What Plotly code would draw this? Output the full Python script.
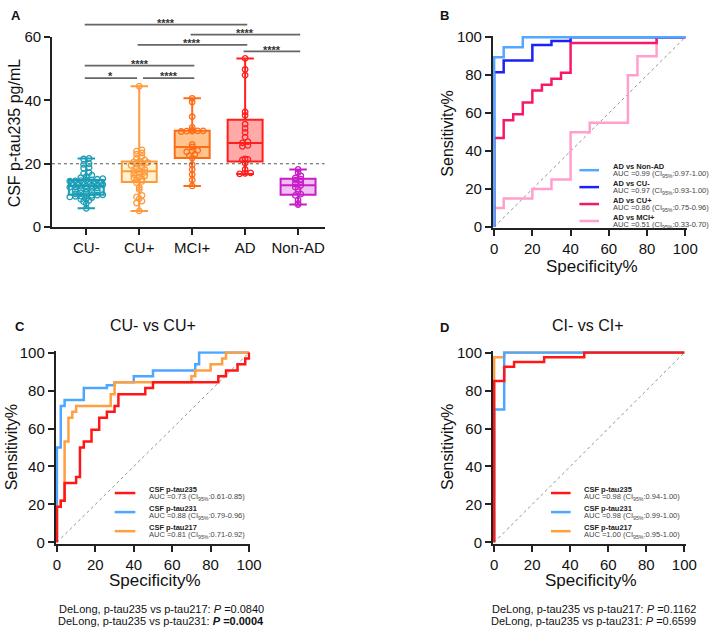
import numpy as np
import plotly.graph_objects as go
from collections import defaultdict

W, H = 710, 637
FONT = "Liberation Sans, Arial, Helvetica, sans-serif"
AX = "#222222"

# ---------------- Panel A data ----------------
groups = ["CU-", "CU+", "MCI+", "AD", "Non-AD"]
cu_neg = [5.9, 7.4, 8.0, 8.4, 8.8, 9.0, 9.3, 9.5, 9.7, 9.8, 9.9, 10.0, 10.1, 10.2, 10.5,
          10.8, 11.0, 11.2, 11.4, 11.6, 11.8, 12.0, 12.2, 12.4, 12.6, 12.7, 12.9, 13.0,
          13.1, 13.3, 13.4, 13.6, 13.7, 13.9, 14.0, 14.2, 14.3, 14.5, 14.6, 14.7, 14.8,
          14.9, 15.1, 15.3, 15.6, 16.0, 16.4, 16.9, 17.2, 18.6, 18.8, 19.8, 20.0, 21.5, 21.7]
cu_pos = [5.1, 7.6, 8.2, 9.0, 9.5, 10.0, 11.8, 12.5, 14.0, 14.4, 14.8, 15.2, 15.5, 15.8,
          16.2, 16.6, 17.0, 17.3, 17.6, 17.9, 18.2, 18.6, 19.0, 19.5, 19.9, 20.2, 20.4,
          20.6, 20.8, 21.2, 21.8, 22.3, 23.0, 23.4, 24.0, 24.4, 44.5]
mci_pos = [13.0, 14.9, 16.6, 18.2, 19.7, 21.8, 22.6, 23.0, 23.8, 24.0, 24.2, 25.3, 26.1,
           30.2, 30.3, 30.3, 30.4, 30.4, 30.6, 31.5, 34.9, 39.5, 40.7]
ad = [16.8, 17.0, 17.1, 18.2, 20.2, 21.2, 21.4, 21.5, 25.5, 25.8, 26.6, 27.0, 28.4, 29.9,
      31.2, 32.5, 35.3, 36.4, 48.0, 49.8, 53.3]
non_ad = [7.1, 7.5, 8.5, 10.0, 10.4, 11.2, 12.0, 12.6, 13.2, 13.6, 14.2, 14.8, 15.1, 15.5,
          16.2, 17.2, 18.2]
group_values = [cu_neg, cu_pos, mci_pos, ad, non_ad]
group_colors = ["#1c9db6", "#ff9a3c", "#ff6c17", "#ff1f1f", "#c81ec8"]
group_fills = ["#cdeef3", "#fff2cf", "#ffc38c", "#ffa9a9", "#f1bff1"]
cutoff = 20

comparisons = [(0, 3, "****"), (2, 4, "****"), (1, 3, "****"), (3, 4, "****"),
               (0, 2, "****"), (0, 1, "*"), (1, 2, "****")]
comparison_levels = [64.0, 60.8, 57.6, 55.5, 51.0, 47.1, 47.1]

# ---------------- ROC data ----------------
b_names = ["AD vs Non-AD", "AD vs CU-", "AD vs CU+", "AD vs MCI+"]
b_auc = ["0.99", "0.97", "0.86", "0.51"]
b_ci = ["0.97-1.00", "0.93-1.00", "0.75-0.96", "0.33-0.70"]
b_x = [[0, 0, 5, 15, 100],
       [0, 0, 5, 20, 30, 40, 100],
       [0, 0, 5, 10, 15, 20, 25, 30, 35, 40, 85, 100],
       [0, 0, 5, 20, 30, 40, 50, 70, 75, 85, 100]]
b_y = [[0, 89.5, 94.7, 100, 100],
       [0, 81.6, 87.8, 95.9, 98.0, 100, 100],
       [0, 46.9, 56.3, 59.4, 65.6, 71.9, 75.0, 78.1, 81.3, 96.9, 100, 100],
       [0, 10, 15, 20, 25, 50, 55, 80, 90, 100, 100]]
b_colors = ["#52a8ff", "#1a22f5", "#f7186c", "#ff9fcd"]

marker_names = ["CSF p-tau235", "CSF p-tau231", "CSF p-tau217"]
marker_colors = ["#ff1616", "#4da6ff", "#ffa040"]
c_auc = ["0.73", "0.88", "0.81"]
c_ci = ["0.61-0.85", "0.79-0.96", "0.71-0.92"]
c_x = [[0, 0, 2, 4, 10, 12, 14, 18, 22, 26, 30, 32, 46, 50, 84, 88, 94, 98, 100],
       [0, 0, 2, 4, 14, 26, 30, 40, 50, 72, 74, 100],
       [0, 0, 2, 4, 6, 8, 10, 28, 30, 70, 72, 80, 86, 88, 100]]
c_y = [[0, 18.8, 21.9, 31.3, 34.4, 50.0, 53.1, 59.4, 65.6, 68.8, 71.9, 78.1, 81.3, 84.4,
        87.5, 90.6, 93.8, 96.9, 100],
       [0, 50, 71.9, 75.0, 81.3, 82.8, 84.4, 87.5, 90.6, 93.8, 100, 100],
       [0, 18.8, 21.9, 53.1, 65.6, 68.8, 71.9, 78.1, 84.4, 87.5, 90.6, 93.8, 96.9, 100, 100]]
d_auc = ["0.98", "0.98", "1.00"]
d_ci = ["0.94-1.00", "0.99-1.00", "0.95-1.00"]
d_x = [[0, 0, 5.3, 10.5, 26.3, 47.4, 100],
       [0, 0, 5.3, 100],
       [0, 0, 5.3, 100]]
d_y = [[0, 85, 92.5, 95, 97.5, 100, 100],
       [0, 70, 100, 100],
       [0, 97.5, 100, 100]]
c_pvals = [("p-tau217", "0.0840", False), ("p-tau231", "0.0004", True)]
d_pvals = [("p-tau217", "0.1162", False), ("p-tau231", "0.6599", False)]


# ---------------- geometry helpers ----------------
def xdom(p_a, p_b, a, b, r0, r1):
    s = (p_b - p_a) / (b - a)
    return [(p_a + (r0 - a) * s) / W, (p_a + (r1 - a) * s) / W]


def ydom(p_a, p_b, a, b, r0, r1):
    s = (p_a - p_b) / (b - a)
    return [1 - (p_a - (r0 - a) * s) / H, 1 - (p_a - (r1 - a) * s) / H]


def px(x):
    return x / W


def py(y):
    return 1 - y / H


fig = go.Figure()

# ---------------- Panel A ----------------
xa_range = [-0.65, 4.5]
px_per_cat = (328 - 50) / (xa_range[1] - xa_range[0])
for i, vals in enumerate(group_values):
    v = np.array(vals)
    q1, med, q3 = np.percentile(v, [25, 50, 75], method="weibull")
    fig.add_trace(go.Box(
        x=[i], q1=[q1], median=[med], q3=[q3], lowerfence=[v.min()], upperfence=[v.max()],
        width=0.66, whiskerwidth=0.5, boxpoints=False,
        line=dict(color=group_colors[i], width=2), fillcolor=group_fills[i],
        xaxis="x", yaxis="y", showlegend=False, hoverinfo="skip"))


def swarm(vals, center, bin_h=1.0, step_px=5.6):
    bins = defaultdict(list)
    for v in vals:
        bins[int(np.floor(v / bin_h + 0.5))].append(v)
    xs, ys = [], []
    for b in sorted(bins):
        vs = sorted(bins[b])
        n = len(vs)
        for k, v in enumerate(vs):
            xs.append(center + (k - (n - 1) / 2) * step_px / px_per_cat)
            ys.append(v)
    return xs, ys


for i, vals in enumerate(group_values):
    xs, ys = swarm(vals, i)
    fig.add_trace(go.Scatter(
        x=xs, y=ys, mode="markers",
        marker=dict(symbol="circle-open", size=5.5, color=group_colors[i],
                    line=dict(width=1.3, color=group_colors[i])),
        xaxis="x", yaxis="y", showlegend=False, hoverinfo="skip"))

# significance brackets on an invisible helper subplot sharing panel A's scale
ends = defaultdict(list)
for (i, j, _), lv in zip(comparisons, comparison_levels):
    ends[lv].append((i, j))
bx, by = [], []
for (i, j, lab), lv in zip(comparisons, comparison_levels):
    x0 = i - 0.03
    x1 = j + 0.04
    if any(jj == i for (ii, jj) in ends[lv] if (ii, jj) != (i, j)):
        x0 = i + 0.07
    if any(ii == j for (ii, jj) in ends[lv] if (ii, jj) != (i, j)):
        x1 = j - 0.04
    bx += [x0, x1, None]
    by += [lv, lv, None]
    fig.add_annotation(x=(x0 + x1) / 2, y=lv + 0.5, xref="x5", yref="y5", text="<b>" + lab + "</b>",
                       showarrow=False, xanchor="center", yanchor="middle",
                       font=dict(family=FONT, size=11, color="#333333"))
fig.add_trace(go.Scatter(x=bx, y=by, mode="lines", line=dict(color="#666666", width=1.7),
                         xaxis="x5", yaxis="y5", showlegend=False, hoverinfo="skip"))

fig.add_shape(type="line", xref="x domain", yref="y", x0=0, x1=1, y0=cutoff, y1=cutoff,
              line=dict(color="#555555", width=1, dash="dot"))

# ---------------- ROC panels ----------------
def diag(xa, ya):
    fig.add_trace(go.Scatter(x=[0, 100], y=[0, 100], mode="lines",
                             line=dict(color="#777777", width=0.8, dash="dot"),
                             xaxis=xa, yaxis=ya, showlegend=False, hoverinfo="skip"))


diag("x2", "y2")
for k in [3, 2, 1, 0]:
    fig.add_trace(go.Scatter(x=b_x[k], y=b_y[k], mode="lines",
                             line=dict(shape="hv", color=b_colors[k], width=2.5),
                             xaxis="x2", yaxis="y2", showlegend=False, name=b_names[k]))
diag("x3", "y3")
for k in [1, 2, 0]:
    fig.add_trace(go.Scatter(x=c_x[k], y=c_y[k], mode="lines",
                             line=dict(shape="hv", color=marker_colors[k], width=2.5),
                             xaxis="x3", yaxis="y3", showlegend=False, name=marker_names[k]))
diag("x4", "y4")
for k in [2, 1, 0]:
    fig.add_trace(go.Scatter(x=d_x[k], y=d_y[k], mode="lines",
                             line=dict(shape="hv", color=marker_colors[k], width=2.5),
                             xaxis="x4", yaxis="y4", showlegend=False, name=marker_names[k]))


# legends drawn as annotations + sample lines
def legend(names, aucs, cis, colors, line_x0, line_x1, text_x, y0, dy):
    for k, (nm, au, ci, col) in enumerate(zip(names, aucs, cis, colors)):
        ty = y0 + k * dy
        fig.add_shape(type="line", xref="paper", yref="paper",
                      x0=px(line_x0), x1=px(line_x1), y0=py(ty + 3.3), y1=py(ty + 3.3),
                      line=dict(color=col, width=2.5))
        fig.add_annotation(x=px(text_x), y=py(ty), xref="paper", yref="paper",
                           text="<b>" + nm + "</b>", showarrow=False, xanchor="left",
                           yanchor="middle", font=dict(family=FONT, size=7.5, color="#222"))
        fig.add_annotation(x=px(text_x), y=py(ty + 7.6), xref="paper", yref="paper",
                           text="AUC =" + au + " (CI<sub>95%</sub>:" + ci + ")",
                           showarrow=False, xanchor="left", yanchor="middle",
                           font=dict(family=FONT, size=7.5, color="#444"))


legend(b_names, b_auc, b_ci, b_colors, 588, 608, 620, 162.3, 17.4)
legend(marker_names, c_auc, c_ci, marker_colors, 114, 135, 146.5, 494, 19.6)
legend(marker_names, d_auc, d_ci, marker_colors, 559, 579, 590.5, 494, 19.6)


def footnote(pvals, cx):
    for k, (other, p, bold) in enumerate(pvals):
        ptxt = "<i>P</i> =" + p
        if bold:
            ptxt = "<b>" + ptxt + "</b>"
        fig.add_annotation(x=px(cx), y=py(616 + 13 * k), xref="paper", yref="paper",
                           text="DeLong, p-tau235 vs " + other + ": " + ptxt,
                           showarrow=False, xanchor="center", yanchor="middle",
                           font=dict(family=FONT, size=11, color="#111"))


footnote(c_pvals, 161.5)
footnote(d_pvals, 602.5)


def text(x, y, s, size, angle=0, bold=False):
    fig.add_annotation(x=px(x), y=py(y), xref="paper", yref="paper",
                       text=("<b>" + s + "</b>") if bold else s, showarrow=False,
                       textangle=angle, xanchor="center", yanchor="middle",
                       font=dict(family=FONT, size=size, color="#111"))


text(12, 127, "CSF p-tau235 pg/mL", 16, -90)
text(454, 128, "Sensitivity%", 16, -90)
text(601, 265, "Specificity%", 17)
text(9.5, 450, "Sensitivity%", 16, -90)
text(155.5, 587, "Specificity%", 17)
text(454, 450, "Sensitivity%", 16, -90)
text(600, 587, "Specificity%", 17)
text(153, 325, "CU- vs CU+", 16)
text(597, 325, "CI- vs CI+", 16)
text(13, 7, "A", 13, bold=True)
text(450, 7, "B", 13, bold=True)
text(17, 326, "C", 13, bold=True)
text(450, 327, "D", 13, bold=True)

# ---------------- axes ----------------
common = dict(showline=True, linecolor=AX, linewidth=1.6, ticks="outside", ticklen=6,
              tickwidth=1.5, tickcolor=AX, showgrid=False, zeroline=False,
              tickfont=dict(family=FONT, size=15, color="#111"), fixedrange=True)
roc_r = [-0.7, 100.7]
roc_ticks = [0, 20, 40, 60, 80, 100]

fig.update_layout(
    width=W, height=H, margin=dict(l=0, r=0, t=0, b=0),
    paper_bgcolor="white", plot_bgcolor="rgba(0,0,0,0)", showlegend=False,
    xaxis=dict(common, domain=xdom(85, 301, 0, 4, *xa_range), range=xa_range, type="linear",
               tickvals=list(range(len(groups))), ticktext=groups, anchor="y"),
    yaxis=dict(common, domain=ydom(224, 29, 0, 60, 0, 60), range=[0, 60],
               tickvals=[0, 20, 40, 60], anchor="x"),
    xaxis5=dict(domain=xdom(85, 301, 0, 4, *xa_range), range=xa_range, visible=False,
                anchor="y5", fixedrange=True),
    yaxis5=dict(domain=[1 - 224 / H, 1], range=[0, 60 * 224 / (224 - 29)], visible=False,
                anchor="x5", fixedrange=True),
    xaxis2=dict(common, domain=xdom(501, 696, 0, 100, *roc_r), range=roc_r,
                tickvals=roc_ticks, anchor="y2"),
    yaxis2=dict(common, domain=ydom(224, 29, 0, 100, *roc_r), range=roc_r,
                tickvals=roc_ticks, anchor="x2"),
    xaxis3=dict(common, domain=xdom(55, 251, 0, 100, *roc_r), range=roc_r,
                tickvals=roc_ticks, anchor="y3"),
    yaxis3=dict(common, domain=ydom(548, 353, 0, 100, *roc_r), range=roc_r,
                tickvals=roc_ticks, anchor="x3"),
    xaxis4=dict(common, domain=xdom(501, 695, 0, 100, *roc_r), range=roc_r,
                tickvals=roc_ticks, anchor="y4"),
    yaxis4=dict(common, domain=ydom(548, 353, 0, 100, *roc_r), range=roc_r,
                tickvals=roc_ticks, anchor="x4"),
)

fig.write_html(
    "out.html",
    config={"displayModeBar": False},
    post_script="document.body.style.margin='0';document.body.style.padding='0';"
                "document.body.style.overflow='hidden';",
)
